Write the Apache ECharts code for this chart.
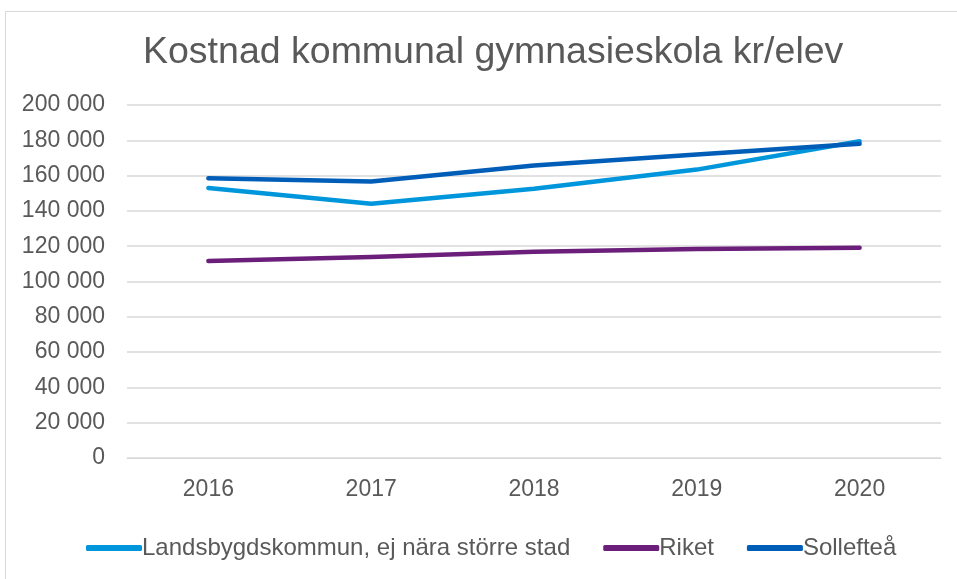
<!DOCTYPE html>
<html>
<head>
<meta charset="utf-8">
<script src="https://cdn.jsdelivr.net/npm/echarts@6/dist/echarts.min.js"></script>
<style>
  html, body { margin: 0; padding: 0; background: #fff; }
  #ram { position: absolute; left: 5px; top: 11px; width: 960px; height: 580px; border: 1px solid #d9d9d9; box-sizing: border-box; }
  #diagram { position: absolute; left: 0; top: 0; width: 957px; height: 579px; }
</style>
</head>
<body>
<div id="ram"></div>
<div id="diagram"></div>
<script>
// Data
const ar = ['2016', '2017', '2018', '2019', '2020'];
const landsbygd = [153000, 144000, 152500, 163400, 179500];
const riket = [111600, 113900, 116900, 118400, 119100];
const solleftea = [158500, 156700, 165700, 171900, 178000];

const serienamn = ['Landsbygdskommun, ej nära större stad', 'Riket', 'Sollefteå'];
const farger = ['#0096dc', '#6b1f7a', '#005eb8'];

// Tusental med mellanslag
function format(v) {
    return String(v).replace(/\B(?=(\d{3})+(?!\d))/g, ' ');
}

const chart = echarts.init(document.getElementById('diagram'));
const textfarg = '#595959';

chart.setOption({
    animation: false,
    textStyle: { fontFamily: 'Liberation Sans, Arial, sans-serif' },
    title: {
        text: 'Kostnad kommunal gymnasieskola kr/elev',
        left: 138,
        top: 29,
        textStyle: { fontSize: 37.5, fontWeight: 'normal', color: textfarg }
    },
    grid: { left: 127, right: 16, top: 105, bottom: 121 },
    legend: {
        bottom: 19,
        left: 86,
        padding: 0,
        itemWidth: 56,
        itemHeight: 6,
        itemGap: 33,
        icon: 'roundRect',
        textStyle: { fontSize: 24, color: textfarg, padding: [0, 0, 0, -5] },
        data: serienamn
    },
    xAxis: {
        type: 'category',
        data: ar,
        boundaryGap: true,
        axisLine: { lineStyle: { color: '#d9d9d9', width: 1 } },
        axisTick: { show: false },
        axisLabel: { fontSize: 23, color: textfarg, margin: 20 }
    },
    yAxis: {
        type: 'value',
        min: 0,
        max: 200000,
        interval: 20000,
        axisLine: { show: false },
        axisTick: { show: false },
        splitLine: { lineStyle: { color: '#d9d9d9', width: 1.5 } },
        axisLabel: { fontSize: 23, color: textfarg, margin: 22, formatter: format }
    },
    series: [
        { name: serienamn[0], type: 'line', data: landsbygd },
        { name: serienamn[1], type: 'line', data: riket },
        { name: serienamn[2], type: 'line', data: solleftea }
    ].map((s, i) => Object.assign(s, {
        color: farger[i],
        showSymbol: false,
        symbol: 'none',
        lineStyle: { width: 4.5, color: farger[i], cap: 'round', join: 'round' }
    }))
});
</script>
</body>
</html>
